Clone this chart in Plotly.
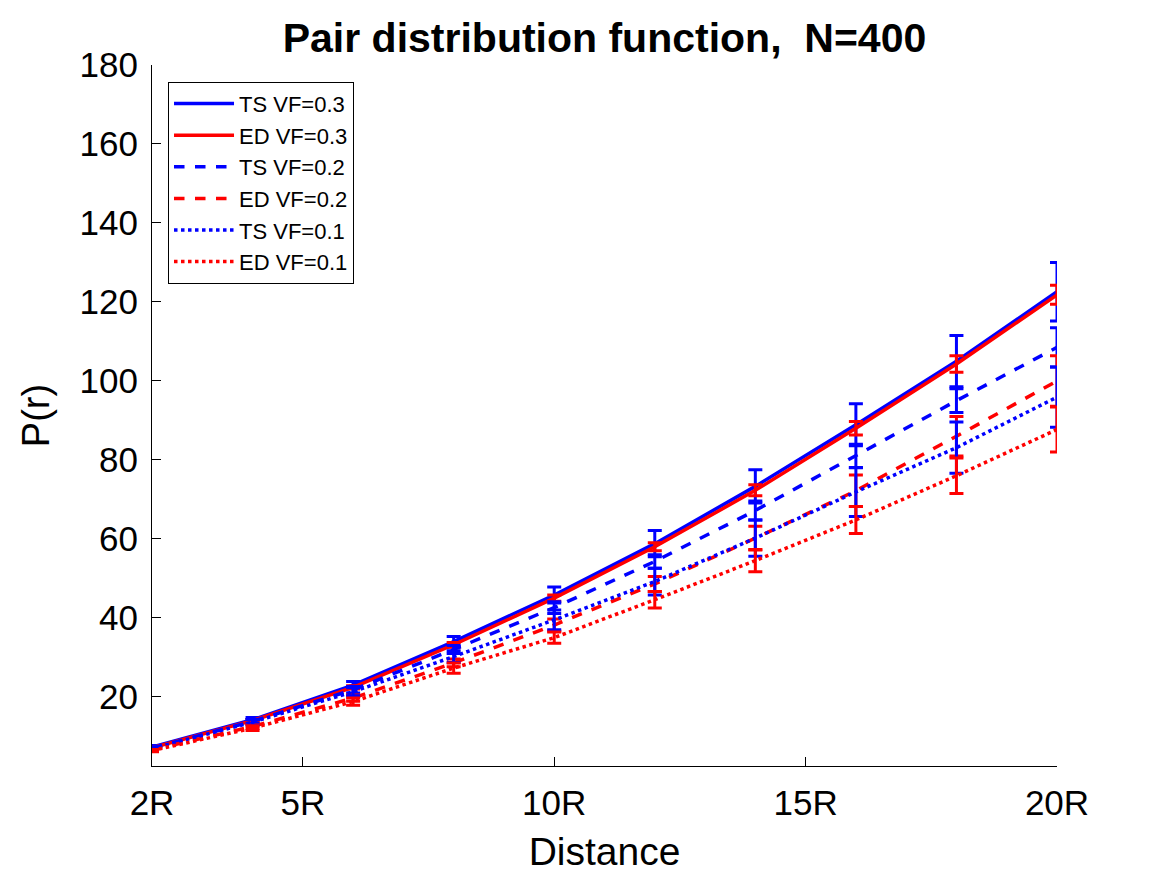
import plotly.graph_objects as go

# --- data ---
x = [2, 4, 6, 8, 10, 12, 14, 16, 18, 20]

ts03 = [7.3, 14.2, 23.0, 34.0, 45.8, 58.8, 73.3, 88.9, 105.0, 122.6]
ts03_err = [0.4, 0.6, 0.9, 1.3, 2.0, 3.3, 4.2, 5.3, 6.5, 7.4]
ed03 = [7.1, 14.0, 22.4, 33.2, 45.0, 58.0, 72.3, 88.0, 104.3, 121.8]
ed03_err = [0.2, 0.3, 0.4, 0.6, 0.8, 1.0, 1.4, 1.7, 2.1, 2.4]
ts02 = [7.0, 13.8, 21.8, 32.0, 42.6, 54.3, 67.2, 81.0, 95.0, 108.5]
ts02_err = [0.3, 0.5, 0.8, 1.0, 1.5, 1.7, 2.4, 3.0, 3.0, 5.0]
ed02 = [6.6, 12.5, 19.7, 28.6, 38.2, 48.6, 60.2, 72.2, 86.0, 100.0]
ed02_err = [0.3, 0.5, 0.8, 1.0, 1.5, 1.9, 3.0, 4.0, 5.0, 6.4]
ts01 = [6.9, 13.6, 21.3, 30.2, 39.5, 49.2, 60.2, 71.9, 83.1, 95.9]
ts01_err = [0.4, 0.7, 1.0, 1.5, 2.5, 3.4, 4.6, 6.2, 6.5, 7.6]
ed01 = [6.4, 12.1, 18.8, 27.3, 35.0, 44.6, 54.5, 64.8, 76.0, 87.7]
ed01_err = [0.3, 0.6, 0.9, 1.3, 1.4, 2.1, 2.8, 3.4, 4.5, 5.7]

xtick_vals = [2, 5, 10, 15, 20]
xtick_text = ["2R", "5R", "10R", "15R", "20R"]
ytick_vals = [20, 40, 60, 80, 100, 120, 140, 160, 180]

BLUE = "rgb(0,0,255)"
RED = "rgb(255,0,0)"
FONT = "Liberation Sans, Arial, sans-serif"

series = [
    ("TS VF=0.3", ts03, ts03_err, BLUE, "solid"),
    ("ED VF=0.3", ed03, ed03_err, RED, "solid"),
    ("TS VF=0.2", ts02, ts02_err, BLUE, "dash"),
    ("ED VF=0.2", ed02, ed02_err, RED, "dash"),
    ("TS VF=0.1", ts01, ts01_err, BLUE, "dot"),
    ("ED VF=0.1", ed01, ed01_err, RED, "dot"),
]

fig = go.Figure()
for name, y, err, color, dash in series:
    fig.add_trace(go.Scatter(
        x=x, y=y, name=name, mode="lines",
        line=dict(color=color, width=3.5, dash=dash),
        error_y=dict(type="data", array=err, visible=True,
                     color=color, thickness=3, width=7),
    ))

tick_font = dict(family=FONT, size=35, color="black")

# the page has an 8px body margin, so margins are shifted by 8px
fig.update_layout(
    width=1167, height=875,
    margin=dict(l=144, r=118, t=57, b=117),
    paper_bgcolor="white", plot_bgcolor="white",
    title=dict(text="<b>Pair distribution function,  N=400</b>",
               x=596.5 / 1167, xanchor="center",
               y=1 - 30 / 875, yanchor="middle",
               font=dict(family=FONT, size=41, color="black")),
    legend=dict(x=0.0177, y=0.976, xanchor="left", yanchor="top",
                bgcolor="white", bordercolor="black", borderwidth=1,
                font=dict(family=FONT, size=22, color="black"),
                itemwidth=60, tracegroupgap=0),
    showlegend=True,
)

fig.update_xaxes(
    range=[2, 20], tickvals=xtick_vals, ticktext=xtick_text,
    showline=True, linecolor="black", linewidth=1, mirror=False,
    ticks="inside", ticklen=9, tickcolor="black",
    showgrid=False, zeroline=False, tickfont=tick_font,
    ticklabelstandoff=6,
    title=dict(text="Distance", font=dict(family=FONT, size=39, color="black"),
               standoff=16),
)
fig.update_yaxes(
    range=[2.5, 180], tickvals=ytick_vals,
    showline=True, linecolor="black", linewidth=1, mirror=False,
    ticks="inside", ticklen=9, tickcolor="black",
    showgrid=False, zeroline=False, tickfont=tick_font,
    ticklabelstandoff=6,
    title=dict(text="P(r)", font=dict(family=FONT, size=38, color="black"),
               standoff=18),
)

fig.write_html("out.html")
